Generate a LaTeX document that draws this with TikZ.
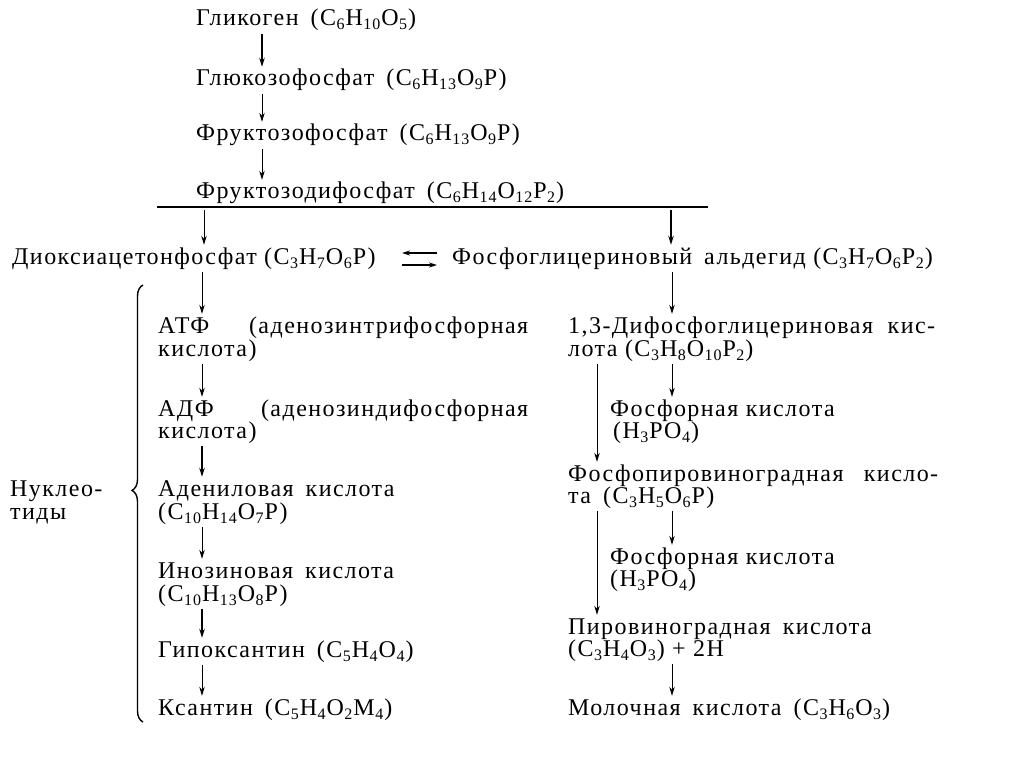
\documentclass[tikz,border=0pt]{standalone}
\usepackage{fontspec}
\setmainfont{Liberation Serif}[LetterSpace=6]
\usetikzlibrary{arrows.meta,decorations.pathreplacing,calc}
\newcommand\ssub[1]{\kern0.5pt\raisebox{-4pt}{\fontsize{16}{16}\selectfont #1}\kern1pt}
\newcommand\gap{\hspace{0.5em}}
\begin{document}
\begin{tikzpicture}[x=1pt,y=-1pt,
  txt/.style={inner sep=0pt, anchor=base west, font=\fontsize{24}{26}\selectfont, text height=15pt, text depth=5pt},
  arr/.style={-{Stealth[length=9pt,width=5.5pt]}, line width=1pt, shorten <=3pt, shorten >=4pt},
  barr/.style={arr, line width=1.6pt},
  eqarr/.style={-{Stealth[length=8pt,width=5pt]}, line width=1.2pt},
  rule/.style={line width=1.4pt}]
\useasboundingbox (0,0) rectangle (1024,767);
\fill[white] (0,0) rectangle (1024,767);

% x positions of the vertical connectors
\coordinate (xa) at (262,0);
\coordinate (xs1) at (204,0);
\coordinate (xs2) at (671,0);
\coordinate (xl) at (202,0);
\coordinate (xr) at (672,0);
\coordinate (xL) at (597,0);

% top chain
\node[txt] (glik)  at (196,26)  {Гликоген\gap(C\ssub{6}H\ssub{10}O\ssub{5})};
\node[txt] (gluk)  at (196,86)  {Глюкозофосфат\gap(C\ssub{6}H\ssub{13}O\ssub{9}P)};
\node[txt] (frukt) at (196,141) {Фруктозофосфат\gap(C\ssub{6}H\ssub{13}O\ssub{9}P)};
\node[txt] (fdif)  at (196,199) {Фруктозодифосфат\gap(C\ssub{6}H\ssub{14}O\ssub{12}P\ssub{2})};

\coordinate (hlL) at (157,207);
\coordinate (hlR) at (708,207);
\draw[rule] (hlL) -- (hlR);
\coordinate (s1) at (204,207);
\coordinate (s2) at (671,207);

\node[txt] (diox) at (12,264)  {Диоксиацетонфосфат (C\ssub{3}H\ssub{7}O\ssub{6}P)};
\node[txt] (fga)  at (452,264) {Фосфоглицериновый\gap альдегид (C\ssub{3}H\ssub{7}O\ssub{6}P\ssub{2})};

% left column
\node[txt] (atf)   at (158,333) {\hbox to 370pt{АТФ\hfill(аденозинтрифосфорная}};
\node[txt] (atfb)  at (158,356) {кислота)};
\node[txt] (adf)   at (158,416) {\hbox to 370pt{АДФ\hfill(аденозиндифосфорная}};
\node[txt] (adfb)  at (158,438) {кислота)};
\node[txt] (aden)  at (158,496) {Адениловая\gap кислота};
\node[txt] (adenb) at (158,519) {(C\ssub{10}H\ssub{14}O\ssub{7}P)};
\node[txt] (inoz)  at (158,578) {Инозиновая\gap кислота};
\node[txt] (inozb) at (158,601) {(C\ssub{10}H\ssub{13}O\ssub{8}P)};
\node[txt] (gipo)  at (158,657) {Гипоксантин\gap(C\ssub{5}H\ssub{4}O\ssub{4})};
\node[txt] (ksan)  at (158,715) {Ксантин\gap(C\ssub{5}H\ssub{4}O\ssub{2}M\ssub{4})};

\node[txt] (nukl)  at (10,496) {Нуклео-};
\node[txt] (nuklb) at (10,519) {тиды};

% right column
\node[txt] (dfg)   at (568,333) {\hbox to 367pt{1,3-Дифосфоглицериновая\hfill кис-}};
\node[txt] (dfgb)  at (568,356) {лота (C\ssub{3}H\ssub{8}O\ssub{10}P\ssub{2})};
\node[txt] (fk1)   at (610,416) {Фосфорная кислота};
\node[txt] (fk1b)  at (613,438) {(H\ssub{3}PO\ssub{4})};
\node[txt] (fpv)   at (568,481) {\hbox to 370pt{Фосфопировиноградная\hfill кисло-}};
\node[txt] (fpvb)  at (568,503) {та\gap(C\ssub{3}H\ssub{5}O\ssub{6}P)};
\node[txt] (fk2)   at (610,564) {Фосфорная кислота};
\node[txt] (fk2b)  at (610,586) {(H\ssub{3}PO\ssub{4})};
\node[txt] (pvk)   at (568,634) {Пировиноградная\gap кислота};
\node[txt] (pvkb)  at (568,656) {(C\ssub{3}H\ssub{4}O\ssub{3}) + 2H};
\node[txt] (mol)   at (568,715) {Молочная\gap кислота\gap(C\ssub{3}H\ssub{6}O\ssub{3})};

% connectors, top chain
\draw[barr] (glik.south -| xa) -- (gluk.north -| xa);
\draw[arr]  (gluk.south -| xa) -- (frukt.north -| xa);
\draw[arr]  (frukt.south -| xa) -- (fdif.north -| xa);
\draw[arr]  (s1) -- (diox.north -| xs1);
\draw[barr] (s2) -- (fga.north -| xs2);

% equilibrium
\draw[eqarr] ($(fga.west)+(-15,-6)$) -- ($(fga.west)+(-50,-6)$);
\draw[eqarr] ($(fga.west)+(-50,6)$) -- ($(fga.west)+(-15,6)$);

% left column connectors
\draw[arr]  (diox.south -| xl) -- (atf.north -| xl);
\draw[arr]  (atfb.south -| xl) -- (adf.north -| xl);
\draw[barr] (adfb.south -| xl) -- (aden.north -| xl);
\draw[arr]  (adenb.south -| xl) -- (inoz.north -| xl);
\draw[barr] (inozb.south -| xl) -- (gipo.north -| xl);
\draw[arr]  (gipo.south -| xl) -- (ksan.north -| xl);

% right column connectors
\draw[arr]  (fga.south -| xr) -- (dfg.north -| xr);
\draw[arr]  (dfgb.south -| xr) -- (fk1.north -| xr);
\draw[arr]  (dfgb.south -| xL) -- (fpv.north -| xL);
\draw[arr]  (fpvb.south -| xL) -- (pvk.north -| xL);
\draw[arr]  (fpvb.south -| xr) -- (fk2.north -| xr);
\draw[arr]  (pvkb.south -| xr) -- (mol.north -| xr);

% brace
\draw[line width=1.4pt, decorate, decoration={brace, amplitude=11pt, aspect=0.53}]
  (143,722) -- (143,285);
\end{tikzpicture}
\end{document}
